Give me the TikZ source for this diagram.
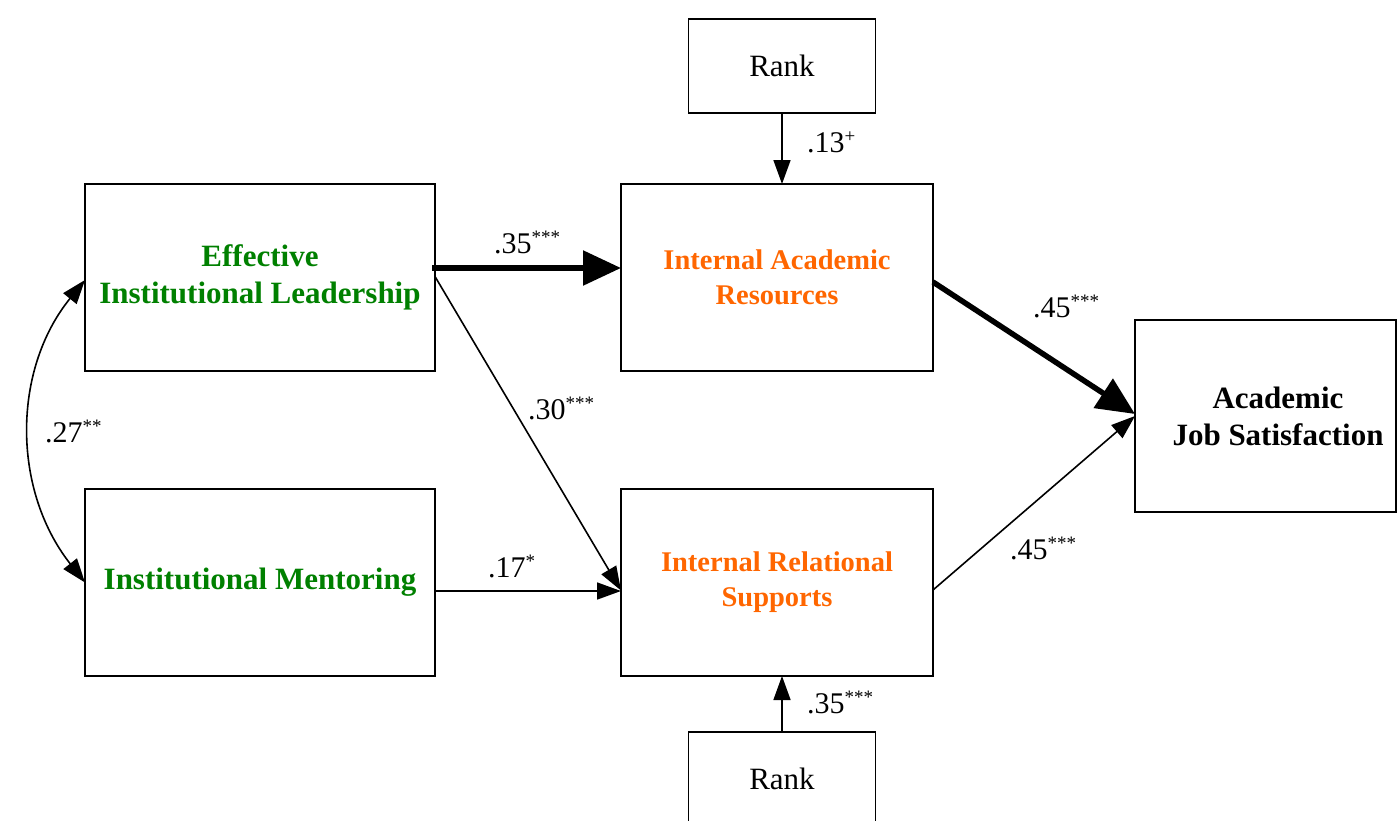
\documentclass[tikz,border=0pt]{standalone}
\usepackage{fontspec}
\setmainfont{Liberation Serif}
\usetikzlibrary{arrows.meta}
\definecolor{dgreen}{RGB}{0,128,0}
\definecolor{orng}{RGB}{255,102,0}
\newcommand{\sups}[1]{\textsuperscript{\fontsize{19}{19}\selectfont #1}}
\begin{document}
\begin{tikzpicture}[x=1pt,y=-1pt,
  box/.style={draw, line width=1.8pt, inner sep=0pt, outer sep=0pt, align=center,
    font=\fontsize{31}{37}\selectfont},
  bigbox/.style={box, minimum width=350pt, minimum height=187pt},
  midbox/.style={box, minimum width=312pt, minimum height=187pt},
  rankbox/.style={box, minimum width=187pt},
  gtext/.style={text=dgreen, font=\fontsize{31}{37}\selectfont\bfseries},
  otext/.style={text=orng, font=\fontsize{28.5}{35}\selectfont\bfseries},
  coef/.style={anchor=base west, inner sep=0pt, font=\fontsize{30}{36}\selectfont},
  thin/.style={line width=1.6pt, -{Triangle[length=24pt,width=17pt]}},
  thick/.style={line width=5.5pt, -{Triangle[length=38pt,width=34pt]}}
]
\useasboundingbox (0,0) rectangle (1397,820);

\node[bigbox, gtext] (EIL) at (260,277.5) {Effective\\Institutional Leadership};
\node[bigbox, gtext] (IM) at (260,582.5) {Institutional Mentoring};
\node[midbox, otext] (IAR) at (777,277.5) {Internal Academic\\Resources};
\node[midbox, otext] (IRS) at (777,582.5) {Internal Relational\\Supports};
\node[box, minimum width=261pt, minimum height=192pt] (AJS) at (1265.5,416) {};
\node[inner sep=0pt, align=center, font=\fontsize{31}{37}\selectfont\bfseries] (AJSt) at (1278,416) {Academic\\Job Satisfaction};
\node[rankbox, minimum height=94pt] (RT) at (782,66) {Rank};
\node[rankbox, minimum height=118pt] (RB) at (782,791) {};
\node[inner sep=0pt, font=\fontsize{31}{37}\selectfont] (RBt) at (782,779) {Rank};

% connectors
\draw[thick] ([yshift=9.5pt]EIL.east) ++(-3,0) coordinate (a1) (a1) -- ([yshift=9.5pt]IAR.west);
\draw[thin] ([yshift=1pt]EIL.east) -- ([yshift=-8pt]IRS.west);
\draw[thin] ([yshift=-8.5pt]IM.east) -- ([yshift=-8.5pt]IRS.west);
\draw[thick] ([yshift=-4.5pt]IAR.east) -- ([yshift=2pt]AJS.west);
\draw[thin] ([yshift=-7.5pt]IRS.east) -- ([yshift=0pt]AJS.west);
\draw[thin] (RT.south) -- (RT.south |- IAR.north);
\draw[thin] (RB.north) -- (RB.north |- IRS.south);
\draw[line width=1.6pt, {Triangle[length=24pt,width=17pt]}-{Triangle[length=24pt,width=17pt]}]
  ([yshift=-2.5pt]EIL.west) .. controls (12,370) and (12,490) .. (IM.west);

% coefficients
\node[coef] (c1) at (494,253) {.35\sups{***}};
\node[coef] (c2) at (528,419) {.30\sups{***}};
\node[coef] (c3) at (488,577) {.17\sups{*}};
\node[coef] (c4) at (1033,317) {.45\sups{***}};
\node[coef] (c5) at (1010,559) {.45\sups{***}};
\node[coef] (c6) at (807,152) {.13\sups{+}};
\node[coef] (c7) at (807,713) {.35\sups{***}};
\node[coef] (c8) at (45,442) {.27\sups{**}};
\end{tikzpicture}
\end{document}
